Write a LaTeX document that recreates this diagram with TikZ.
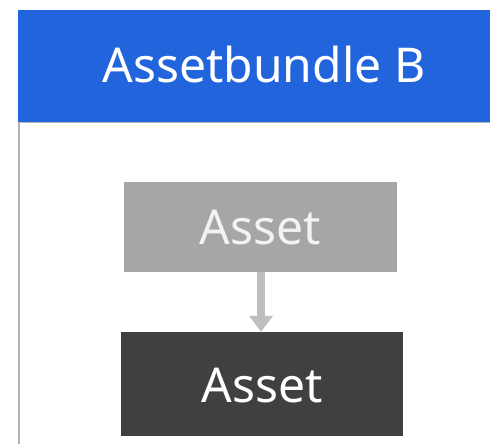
\documentclass[tikz,border=0pt]{standalone}
\usepackage{fontspec}
\setmainfont{Noto Sans}
\usetikzlibrary{arrows.meta}
\definecolor{hdrblue}{HTML}{2264DC}
\definecolor{boxgray}{HTML}{A6A6A6}
\definecolor{boxdark}{HTML}{404040}
\definecolor{arrgray}{HTML}{BFBFBF}
\definecolor{bordergray}{HTML}{B4B4B4}
\tikzset{
  bigtext/.style={draw=none, inner sep=0pt, font=\fontsize{48}{56}\selectfont, text height=35pt, text depth=1pt},
}
\begin{document}
\begin{tikzpicture}[x=1pt,y=-1pt]
\useasboundingbox (0,0) rectangle (490,444);
\fill[white] (0,0) rectangle (490,444);
% body border
\draw[bordergray, line width=1.5pt] (18.75,444) -- (18.75,122.5) -- (490,122.5);
% header
\node[bigtext, fill=hdrblue, text=white, minimum width=472pt, minimum height=112pt] (hdr) at (254,66) {\hspace*{20pt}Assetbundle B};
% boxes
\node[bigtext, fill=boxgray, text=white!95!black, minimum width=273pt, minimum height=90pt] (a1) at (260.5,227) {Asset};
\node[bigtext, fill=boxdark, text=white, minimum width=282pt, minimum height=104pt, text height=36pt, text depth=0pt] (a2) at (262,384) {Asset};
\draw[arrgray, line width=8pt, -{Triangle[width=23pt,length=16pt]}] (a1.south -| 261,0) -- (a2.north -| 261,0);
\end{tikzpicture}
\end{document}
